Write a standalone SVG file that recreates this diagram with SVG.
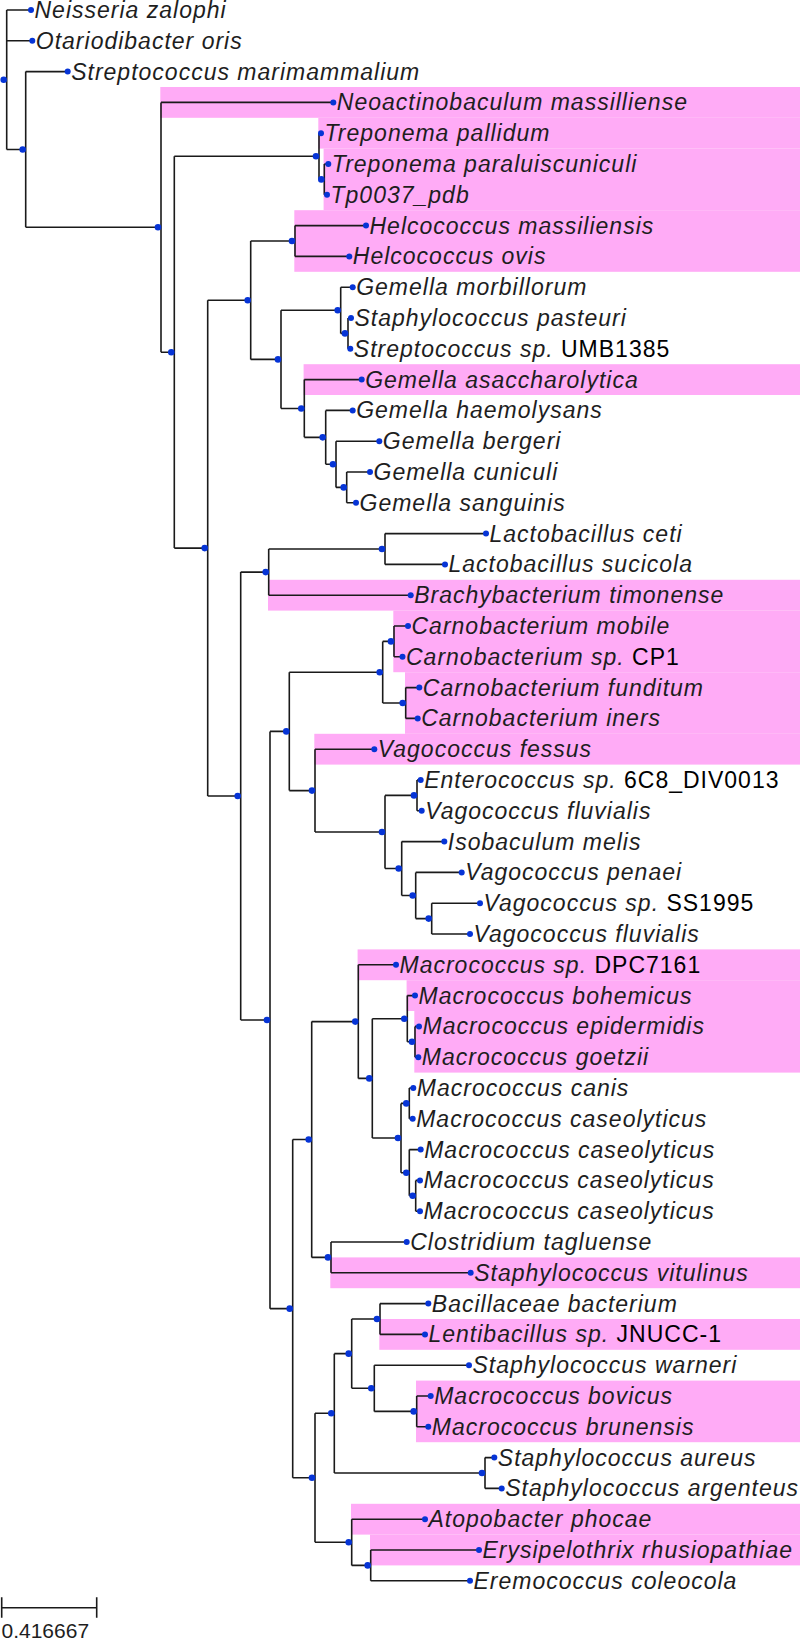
<svg xmlns="http://www.w3.org/2000/svg" width="800" height="1642" viewBox="0 0 800 1642">
<style>
.hl{fill:#ffabf6}
.br{fill:none;stroke:#1a1a1a;stroke-width:1.6}
.nd{fill:#0634d6}
.t{font-family:"Liberation Sans",Arial,sans-serif;font-size:23px;font-style:italic;letter-spacing:1px;fill:#1e1e1e}
.n{font-style:normal;fill:#000}
.sc{font-family:"Liberation Sans",Arial,sans-serif;font-size:21px;fill:#1e1e1e}
</style>
<rect width="800" height="1642" fill="#fff"/>
<g id="highlights">
<rect class="hl" x="160.3" y="87" width="639.7" height="30.8"/>
<rect class="hl" x="318.3" y="117.8" width="481.7" height="30.8"/>
<rect class="hl" x="323.6" y="148.6" width="476.4" height="61.6"/>
<rect class="hl" x="294.3" y="210.2" width="505.7" height="61.6"/>
<rect class="hl" x="303.6" y="364.2" width="496.4" height="30.8"/>
<rect class="hl" x="268" y="579.8" width="532" height="30.8"/>
<rect class="hl" x="393.3" y="610.6" width="406.7" height="61.6"/>
<rect class="hl" x="405" y="672.2" width="395" height="61.6"/>
<rect class="hl" x="314.3" y="733.8" width="485.7" height="30.8"/>
<rect class="hl" x="357.6" y="949.4" width="442.4" height="30.8"/>
<rect class="hl" x="406.6" y="980.2" width="393.4" height="30.8"/>
<rect class="hl" x="414.3" y="1011" width="385.7" height="61.6"/>
<rect class="hl" x="330.3" y="1257.4" width="469.7" height="30.8"/>
<rect class="hl" x="379.3" y="1319" width="420.7" height="30.8"/>
<rect class="hl" x="416" y="1380.6" width="384" height="61.6"/>
<rect class="hl" x="351" y="1503.8" width="449" height="30.8"/>
<rect class="hl" x="370" y="1534.6" width="430" height="30.8"/>
</g>
<g id="connectors" class="br">
<path d="M6.7,10 V149.45 M6.7,10 H31 M6.7,40.8 H32.3 M6.7,149.45 H25.7"/>
<path d="M25.7,71.6 V227.3 M25.7,71.6 H67.7 M25.7,227.3 H161"/>
<path d="M161,102.4 V352.2 M161,102.4 H333.3 M161,352.2 H174.3"/>
<path d="M174.3,156.3 V548.1 M174.3,156.3 H319 M174.3,548.1 H207.7"/>
<path d="M319,133.2 V179.4 M319,133.2 H321 M319,179.4 H324.3"/>
<path d="M324.3,164 V194.8 M324.3,164 H328.3 M324.3,194.8 H327"/>
<path d="M207.7,300.2 V796 M207.7,300.2 H250.7 M207.7,796 H240.7"/>
<path d="M250.7,241 V359.4 M250.7,241 H295 M250.7,359.4 H281"/>
<path d="M295,225.6 V256.4 M295,225.6 H366 M295,256.4 H349.3"/>
<path d="M281,310.3 V408.5 M281,310.3 H340.7 M281,408.5 H304.3"/>
<path d="M340.7,287.2 V333.4 M340.7,287.2 H352.7 M340.7,333.4 H348"/>
<path d="M348,318 V348.8 M348,318 H351 M348,348.8 H350.3"/>
<path d="M304.3,379.6 V437.35 M304.3,379.6 H361.7 M304.3,437.35 H325.7"/>
<path d="M325.7,410.4 V464.3 M325.7,410.4 H352.7 M325.7,464.3 H336"/>
<path d="M336,441.2 V487.4 M336,441.2 H379.3 M336,487.4 H346.7"/>
<path d="M346.7,472 V502.8 M346.7,472 H370 M346.7,502.8 H356"/>
<path d="M240.7,572.1 V1020 M240.7,572.1 H268.7 M240.7,1020 H270"/>
<path d="M268.7,549 V595.2 M268.7,549 H385 M268.7,595.2 H410.7"/>
<path d="M385,533.6 V564.4 M385,533.6 H486 M385,564.4 H445"/>
<path d="M270,731.4 V1308.65 M270,731.4 H289.3 M270,1308.65 H292.7"/>
<path d="M289.3,672.2 V790.6 M289.3,672.2 H382.7 M289.3,790.6 H315"/>
<path d="M382.7,641.4 V703 M382.7,641.4 H394 M382.7,703 H405.7"/>
<path d="M394,626 V656.8 M394,626 H408 M394,656.8 H402.5"/>
<path d="M405.7,687.6 V718.4 M405.7,687.6 H419.3 M405.7,718.4 H417.7"/>
<path d="M315,749.2 V832 M315,749.2 H374.3 M315,832 H385"/>
<path d="M385,795.4 V868.55 M385,795.4 H417 M385,868.55 H401.7"/>
<path d="M417,780 V810.8 M417,780 H420.7 M417,810.8 H421.7"/>
<path d="M401.7,841.6 V895.5 M401.7,841.6 H444.3 M401.7,895.5 H415.7"/>
<path d="M415.7,872.4 V918.6 M415.7,872.4 H461.7 M415.7,918.6 H431.7"/>
<path d="M431.7,903.2 V934 M431.7,903.2 H480 M431.7,934 H470"/>
<path d="M292.7,1139.5 V1477.8 M292.7,1139.5 H311.7 M292.7,1477.8 H315"/>
<path d="M311.7,1021.6 V1257.4 M311.7,1021.6 H358.3 M311.7,1257.4 H331"/>
<path d="M358.3,964.8 V1078.4 M358.3,964.8 H396 M358.3,1078.4 H372.3"/>
<path d="M372.3,1018.7 V1138 M372.3,1018.7 H407.3 M372.3,1138 H401"/>
<path d="M407.3,995.6 V1041.8 M407.3,995.6 H415 M407.3,1041.8 H415"/>
<path d="M415,1026.4 V1057.2 M415,1026.4 H419 M415,1057.2 H418.3"/>
<path d="M401,1103.4 V1172.7 M401,1103.4 H409.3 M401,1172.7 H409.3"/>
<path d="M409.3,1088 V1118.8 M409.3,1088 H413.3 M409.3,1118.8 H412.7"/>
<path d="M409.3,1149.6 V1195.8 M409.3,1149.6 H420.7 M409.3,1195.8 H415.7"/>
<path d="M415.7,1180.4 V1211.2 M415.7,1180.4 H420 M415.7,1211.2 H420"/>
<path d="M331,1242 V1272.8 M331,1242 H406.7 M331,1272.8 H470.7"/>
<path d="M315,1413.3 V1542.3 M315,1413.3 H334.3 M315,1542.3 H351.7"/>
<path d="M334.3,1353.65 V1473 M334.3,1353.65 H351.7 M334.3,1473 H485"/>
<path d="M351.7,1319 V1388.3 M351.7,1319 H380 M351.7,1388.3 H374.3"/>
<path d="M380,1303.6 V1334.4 M380,1303.6 H428.3 M380,1334.4 H425"/>
<path d="M374.3,1365.2 V1411.4 M374.3,1365.2 H469 M374.3,1411.4 H416.7"/>
<path d="M416.7,1396 V1426.8 M416.7,1396 H430.7 M416.7,1426.8 H428.3"/>
<path d="M485,1457.6 V1488.4 M485,1457.6 H494.3 M485,1488.4 H501.7"/>
<path d="M351.7,1519.2 V1565.4 M351.7,1519.2 H425 M351.7,1565.4 H370.7"/>
<path d="M370.7,1550 V1580.8 M370.7,1550 H479 M370.7,1580.8 H470"/>
</g>
<g id="internal-nodes" class="nd">
<circle id="n-root" cx="3.7" cy="79.7" r="3.3"/>
<circle id="n-A" cx="22.7" cy="149.45" r="3.3"/>
<circle id="n-B" cx="158" cy="227.3" r="3.3"/>
<circle id="n-C" cx="171.3" cy="352.2" r="3.3"/>
<circle id="n-T1" cx="316" cy="156.3" r="3.3"/>
<circle id="n-T2" cx="321.3" cy="179.4" r="3.3"/>
<circle id="n-D" cx="204.7" cy="548.1" r="3.3"/>
<circle id="n-E" cx="247.7" cy="300.2" r="3.3"/>
<circle id="n-H" cx="292" cy="241" r="3.3"/>
<circle id="n-G" cx="278" cy="359.4" r="3.3"/>
<circle id="n-I" cx="337.7" cy="310.3" r="3.3"/>
<circle id="n-K" cx="345" cy="333.4" r="3.3"/>
<circle id="n-J" cx="301.3" cy="408.5" r="3.3"/>
<circle id="n-L" cx="322.7" cy="437.35" r="3.3"/>
<circle id="n-M" cx="333" cy="464.3" r="3.3"/>
<circle id="n-N" cx="343.7" cy="487.4" r="3.3"/>
<circle id="n-F" cx="237.7" cy="796" r="3.3"/>
<circle id="n-O" cx="265.7" cy="572.1" r="3.3"/>
<circle id="n-Q" cx="382" cy="549" r="3.3"/>
<circle id="n-P" cx="267" cy="1020" r="3.3"/>
<circle id="n-R" cx="286.3" cy="731.4" r="3.3"/>
<circle id="n-U" cx="379.7" cy="672.2" r="3.3"/>
<circle id="n-W" cx="391" cy="641.4" r="3.3"/>
<circle id="n-X" cx="402.7" cy="703" r="3.3"/>
<circle id="n-V" cx="312" cy="790.6" r="3.3"/>
<circle id="n-Y" cx="382" cy="832" r="3.3"/>
<circle id="n-Z" cx="414" cy="795.4" r="3.3"/>
<circle id="n-AA" cx="398.7" cy="868.55" r="3.3"/>
<circle id="n-AB" cx="412.7" cy="895.5" r="3.3"/>
<circle id="n-AC" cx="428.7" cy="918.6" r="3.3"/>
<circle id="n-S" cx="289.7" cy="1308.65" r="3.3"/>
<circle id="n-AD" cx="308.7" cy="1139.5" r="3.3"/>
<circle id="n-AF" cx="355.3" cy="1021.6" r="3.3"/>
<circle id="n-AH" cx="369.3" cy="1078.4" r="3.3"/>
<circle id="n-AI" cx="404.3" cy="1018.7" r="3.3"/>
<circle id="n-AK" cx="412" cy="1041.8" r="3.3"/>
<circle id="n-AJ" cx="398" cy="1138" r="3.3"/>
<circle id="n-AL" cx="406.3" cy="1103.4" r="3.3"/>
<circle id="n-AM" cx="406.3" cy="1172.7" r="3.3"/>
<circle id="n-AN" cx="412.7" cy="1195.8" r="3.3"/>
<circle id="n-AG" cx="328" cy="1257.4" r="3.3"/>
<circle id="n-AE" cx="312" cy="1477.8" r="3.3"/>
<circle id="n-AO" cx="331.3" cy="1413.3" r="3.3"/>
<circle id="n-AQ" cx="348.7" cy="1353.65" r="3.3"/>
<circle id="n-AS" cx="377" cy="1319" r="3.3"/>
<circle id="n-AT" cx="371.3" cy="1388.3" r="3.3"/>
<circle id="n-AU" cx="413.7" cy="1411.4" r="3.3"/>
<circle id="n-AR" cx="482" cy="1473" r="3.3"/>
<circle id="n-AP" cx="348.7" cy="1542.3" r="3.3"/>
<circle id="n-AV" cx="367.7" cy="1565.4" r="3.3"/>
</g>
<g id="leaf-0"><circle class="nd" cx="31" cy="10" r="3"/><text class="t" x="34.5" y="18">Neisseria zalophi</text></g>
<g id="leaf-1"><circle class="nd" cx="32.3" cy="40.8" r="3"/><text class="t" x="35.8" y="48.8">Otariodibacter oris</text></g>
<g id="leaf-2"><circle class="nd" cx="67.7" cy="71.6" r="3"/><text class="t" x="71.2" y="79.6">Streptococcus marimammalium</text></g>
<g id="leaf-3"><circle class="nd" cx="333.3" cy="102.4" r="3"/><text class="t" x="336.8" y="110.4">Neoactinobaculum massilliense</text></g>
<g id="leaf-4"><circle class="nd" cx="321" cy="133.2" r="3"/><text class="t" x="324.5" y="141.2">Treponema pallidum</text></g>
<g id="leaf-5"><circle class="nd" cx="328.3" cy="164" r="3"/><text class="t" x="331.8" y="172">Treponema paraluiscuniculi</text></g>
<g id="leaf-6"><circle class="nd" cx="327" cy="194.8" r="3"/><text class="t" x="330.5" y="202.8">Tp0037_pdb</text></g>
<g id="leaf-7"><circle class="nd" cx="366" cy="225.6" r="3"/><text class="t" x="369.5" y="233.6">Helcococcus massiliensis</text></g>
<g id="leaf-8"><circle class="nd" cx="349.3" cy="256.4" r="3"/><text class="t" x="352.8" y="264.4">Helcococcus ovis</text></g>
<g id="leaf-9"><circle class="nd" cx="352.7" cy="287.2" r="3"/><text class="t" x="356.2" y="295.2">Gemella morbillorum</text></g>
<g id="leaf-10"><circle class="nd" cx="351" cy="318" r="3"/><text class="t" x="354.5" y="326">Staphylococcus pasteuri</text></g>
<g id="leaf-11"><circle class="nd" cx="350.3" cy="348.8" r="3"/><text class="t" x="353.8" y="356.8">Streptococcus sp. <tspan class="n">UMB1385</tspan></text></g>
<g id="leaf-12"><circle class="nd" cx="361.7" cy="379.6" r="3"/><text class="t" x="365.2" y="387.6">Gemella asaccharolytica</text></g>
<g id="leaf-13"><circle class="nd" cx="352.7" cy="410.4" r="3"/><text class="t" x="356.2" y="418.4">Gemella haemolysans</text></g>
<g id="leaf-14"><circle class="nd" cx="379.3" cy="441.2" r="3"/><text class="t" x="382.8" y="449.2">Gemella bergeri</text></g>
<g id="leaf-15"><circle class="nd" cx="370" cy="472" r="3"/><text class="t" x="373.5" y="480">Gemella cuniculi</text></g>
<g id="leaf-16"><circle class="nd" cx="356" cy="502.8" r="3"/><text class="t" x="359.5" y="510.8">Gemella sanguinis</text></g>
<g id="leaf-17"><circle class="nd" cx="486" cy="533.6" r="3"/><text class="t" x="489.5" y="541.6">Lactobacillus ceti</text></g>
<g id="leaf-18"><circle class="nd" cx="445" cy="564.4" r="3"/><text class="t" x="448.5" y="572.4">Lactobacillus sucicola</text></g>
<g id="leaf-19"><circle class="nd" cx="410.7" cy="595.2" r="3"/><text class="t" x="414.2" y="603.2">Brachybacterium timonense</text></g>
<g id="leaf-20"><circle class="nd" cx="408" cy="626" r="3"/><text class="t" x="411.5" y="634">Carnobacterium mobile</text></g>
<g id="leaf-21"><circle class="nd" cx="402.5" cy="656.8" r="3"/><text class="t" x="406" y="664.8">Carnobacterium sp. <tspan class="n">CP1</tspan></text></g>
<g id="leaf-22"><circle class="nd" cx="419.3" cy="687.6" r="3"/><text class="t" x="422.8" y="695.6">Carnobacterium funditum</text></g>
<g id="leaf-23"><circle class="nd" cx="417.7" cy="718.4" r="3"/><text class="t" x="421.2" y="726.4">Carnobacterium iners</text></g>
<g id="leaf-24"><circle class="nd" cx="374.3" cy="749.2" r="3"/><text class="t" x="377.8" y="757.2">Vagococcus fessus</text></g>
<g id="leaf-25"><circle class="nd" cx="420.7" cy="780" r="3"/><text class="t" x="424.2" y="788">Enterococcus sp. <tspan class="n">6C8_DIV0013</tspan></text></g>
<g id="leaf-26"><circle class="nd" cx="421.7" cy="810.8" r="3"/><text class="t" x="425.2" y="818.8">Vagococcus fluvialis</text></g>
<g id="leaf-27"><circle class="nd" cx="444.3" cy="841.6" r="3"/><text class="t" x="447.8" y="849.6">Isobaculum melis</text></g>
<g id="leaf-28"><circle class="nd" cx="461.7" cy="872.4" r="3"/><text class="t" x="465.2" y="880.4">Vagococcus penaei</text></g>
<g id="leaf-29"><circle class="nd" cx="480" cy="903.2" r="3"/><text class="t" x="483.5" y="911.2">Vagococcus sp. <tspan class="n">SS1995</tspan></text></g>
<g id="leaf-30"><circle class="nd" cx="470" cy="934" r="3"/><text class="t" x="473.5" y="942">Vagococcus fluvialis</text></g>
<g id="leaf-31"><circle class="nd" cx="396" cy="964.8" r="3"/><text class="t" x="399.5" y="972.8">Macrococcus sp. <tspan class="n">DPC7161</tspan></text></g>
<g id="leaf-32"><circle class="nd" cx="415" cy="995.6" r="3"/><text class="t" x="418.5" y="1003.6">Macrococcus bohemicus</text></g>
<g id="leaf-33"><circle class="nd" cx="419" cy="1026.4" r="3"/><text class="t" x="422.5" y="1034.4">Macrococcus epidermidis</text></g>
<g id="leaf-34"><circle class="nd" cx="418.3" cy="1057.2" r="3"/><text class="t" x="421.8" y="1065.2">Macrococcus goetzii</text></g>
<g id="leaf-35"><circle class="nd" cx="413.3" cy="1088" r="3"/><text class="t" x="416.8" y="1096">Macrococcus canis</text></g>
<g id="leaf-36"><circle class="nd" cx="412.7" cy="1118.8" r="3"/><text class="t" x="416.2" y="1126.8">Macrococcus caseolyticus</text></g>
<g id="leaf-37"><circle class="nd" cx="420.7" cy="1149.6" r="3"/><text class="t" x="424.2" y="1157.6">Macrococcus caseolyticus</text></g>
<g id="leaf-38"><circle class="nd" cx="420" cy="1180.4" r="3"/><text class="t" x="423.5" y="1188.4">Macrococcus caseolyticus</text></g>
<g id="leaf-39"><circle class="nd" cx="420" cy="1211.2" r="3"/><text class="t" x="423.5" y="1219.2">Macrococcus caseolyticus</text></g>
<g id="leaf-40"><circle class="nd" cx="406.7" cy="1242" r="3"/><text class="t" x="410.2" y="1250">Clostridium tagluense</text></g>
<g id="leaf-41"><circle class="nd" cx="470.7" cy="1272.8" r="3"/><text class="t" x="474.2" y="1280.8">Staphylococcus vitulinus</text></g>
<g id="leaf-42"><circle class="nd" cx="428.3" cy="1303.6" r="3"/><text class="t" x="431.8" y="1311.6">Bacillaceae bacterium</text></g>
<g id="leaf-43"><circle class="nd" cx="425" cy="1334.4" r="3"/><text class="t" x="428.5" y="1342.4">Lentibacillus sp. <tspan class="n">JNUCC-1</tspan></text></g>
<g id="leaf-44"><circle class="nd" cx="469" cy="1365.2" r="3"/><text class="t" x="472.5" y="1373.2">Staphylococcus warneri</text></g>
<g id="leaf-45"><circle class="nd" cx="430.7" cy="1396" r="3"/><text class="t" x="434.2" y="1404">Macrococcus bovicus</text></g>
<g id="leaf-46"><circle class="nd" cx="428.3" cy="1426.8" r="3"/><text class="t" x="431.8" y="1434.8">Macrococcus brunensis</text></g>
<g id="leaf-47"><circle class="nd" cx="494.3" cy="1457.6" r="3"/><text class="t" x="497.8" y="1465.6">Staphylococcus aureus</text></g>
<g id="leaf-48"><circle class="nd" cx="501.7" cy="1488.4" r="3"/><text class="t" x="505.2" y="1496.4">Staphylococcus argenteus</text></g>
<g id="leaf-49"><circle class="nd" cx="425" cy="1519.2" r="3"/><text class="t" x="428.5" y="1527.2">Atopobacter phocae</text></g>
<g id="leaf-50"><circle class="nd" cx="479" cy="1550" r="3"/><text class="t" x="482.5" y="1558">Erysipelothrix rhusiopathiae</text></g>
<g id="leaf-51"><circle class="nd" cx="470" cy="1580.8" r="3"/><text class="t" x="473.5" y="1588.8">Eremococcus coleocola</text></g>
<g id="scale-bar">
<path class="br" d="M1.7,1607.7 H96.7 M1.7,1597.3 V1617.7 M96.7,1597.3 V1617.7"/>
<text class="sc" x="1.5" y="1638">0.416667</text>
</g>
</svg>
